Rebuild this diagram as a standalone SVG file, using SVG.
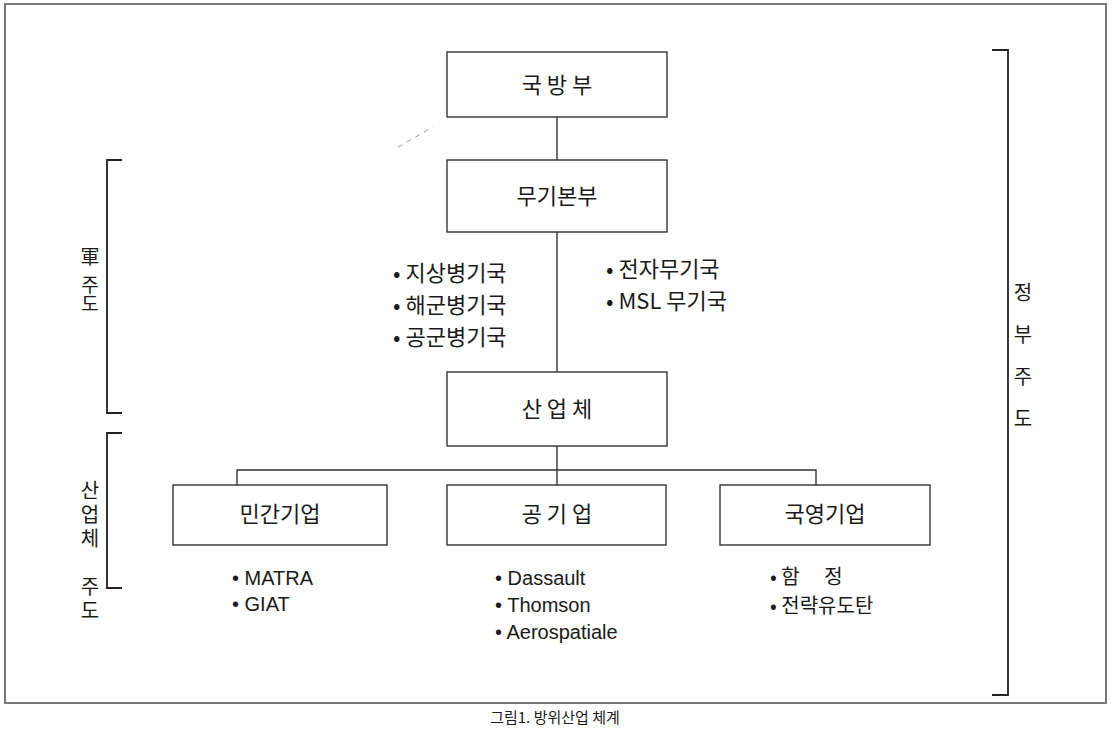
<svg xmlns="http://www.w3.org/2000/svg" width="1112" height="729" viewBox="0 0 1112 729">
<style>
.box{fill:#fff;stroke:#333;stroke-width:1.4}
.ln{fill:none;stroke:#333;stroke-width:1.4}
.br{fill:none;stroke:#222;stroke-width:1.8}
.t{font-family:"Noto Sans CJK KR","Noto Sans",sans-serif;fill:#1a1a1a;font-size:22px}
.c{text-anchor:middle}
.v{font-family:"Noto Sans CJK KR","Noto Sans",sans-serif;fill:#1a1a1a;writing-mode:vertical-rl;text-orientation:upright;font-size:20px}
.l{font-family:"Noto Sans CJK KR","Noto Sans",sans-serif;fill:#1a1a1a;font-size:22px}
.e{font-family:"Liberation Sans Narrow","Liberation Sans",sans-serif;fill:#1a1a1a;font-size:20px}
</style>
<rect x="5" y="4" width="1101" height="699" fill="#fff" stroke="#777" stroke-width="2"/>
<line x1="398" y1="147" x2="433" y2="127" stroke="#999" stroke-width="1" stroke-dasharray="5 5"/>
<g id="connectors">
<line class="ln" x1="557" y1="117" x2="557" y2="160"/>
<line class="ln" x1="557" y1="232" x2="557" y2="372"/>
<polyline class="ln" points="237,485 237,470 816,470 816,485"/>
<line class="ln" x1="557" y1="446" x2="557" y2="485"/>
</g>
<g id="n-mnd"><rect class="box" x="447" y="52" width="220" height="65"/><text class="t c" x="557" y="93">국 방 부</text></g>
<g id="n-dga"><rect class="box" x="447" y="160" width="220" height="72"/><text class="t c" x="557" y="204">무기본부</text></g>
<g id="n-ind"><rect class="box" x="447" y="372" width="220" height="74"/><text class="t c" x="557" y="417">산 업 체</text></g>
<g id="n-priv"><rect class="box" x="173" y="485" width="214" height="60"/><text class="t c" x="280" y="522">민간기업</text></g>
<g id="n-pub"><rect class="box" x="447" y="485" width="219" height="60"/><text class="t c" x="557" y="522">공 기 업</text></g>
<g id="n-state"><rect class="box" x="720" y="485" width="210" height="60"/><text class="t c" x="825" y="522">국영기업</text></g>
<g id="list-left">
<text class="l" x="393" y="281">• 지상병기국</text>
<text class="l" x="393" y="313">• 해군병기국</text>
<text class="l" x="393" y="345">• 공군병기국</text>
</g>
<g id="list-right">
<text class="l" x="606" y="277">• 전자무기국</text>
<text class="l" x="606" y="309">• MSL 무기국</text>
</g>
<g id="list-priv">
<text class="e" x="232" y="585">• MATRA</text>
<text class="e" x="232" y="611">• GIAT</text>
</g>
<g id="list-pub">
<text class="e" x="495" y="585">• Dassault</text>
<text class="e" x="495" y="612">• Thomson</text>
<text class="e" x="495" y="639">• Aerospatiale</text>
</g>
<g id="list-state">
<text class="l" x="770" y="584" style="font-size:20px">• 함　 정</text>
<text class="l" x="770" y="613" style="font-size:20px">• 전략유도탄</text>
</g>
<g id="brackets">
<polyline class="br" points="122,160 107,160 107,413 122,413"/>
<polyline class="br" points="122,433 107,433 107,588 122,588"/>
<polyline class="br" points="992,50 1008,50 1008,695 992,695"/>
</g>
<g id="labels">
<text class="v" x="90" y="247" style="font-size:19px"><tspan style="letter-spacing:9px">軍</tspan>주도</text>
<text class="v" x="90" y="480" style="letter-spacing:4px">산업체 주도</text>
<text class="v" x="1023" y="282" style="letter-spacing:22px">정부주도</text>
</g>
<text class="t c" x="555" y="723" style="font-size:15px">그림1. 방위산업 체계</text>
</svg>
